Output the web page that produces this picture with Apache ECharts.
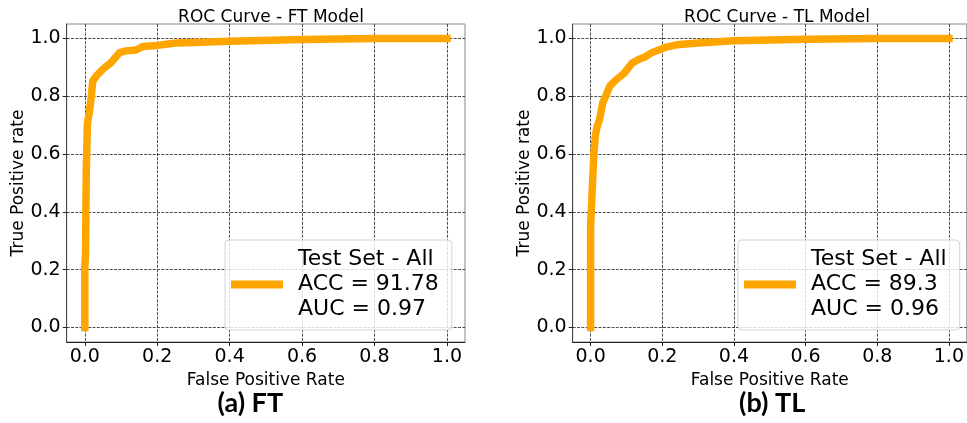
<!DOCTYPE html>
<html>
<head>
<meta charset="utf-8">
<script src="https://cdn.jsdelivr.net/npm/echarts@6/dist/echarts.min.js"></script>
<style>
  html, body { margin: 0; padding: 0; background: #fff; }
  #chart { width: 967px; height: 423px; }
</style>
</head>
<body>
<div id="chart"></div>
<script>
// ROC points
const ftFpr = [0, 0, 0.002, 0.004, 0.007, 0.009, 0.012, 0.018, 0.022, 0.032, 0.05, 0.073, 0.096, 0.114, 0.142, 0.16, 0.2, 0.252, 0.3, 0.4, 0.6, 0.8, 1.0]
const ftTpr = [0, 0.21, 0.25, 0.54, 0.70, 0.72, 0.74, 0.80, 0.853, 0.87, 0.894, 0.917, 0.951, 0.957, 0.96, 0.972, 0.976, 0.984, 0.986, 0.99, 0.996, 1.0, 1.0]
const tlFpr = [0, 0, 0.005, 0.009, 0.013, 0.017, 0.025, 0.034, 0.042, 0.054, 0.071, 0.094, 0.116, 0.135, 0.15, 0.171, 0.208, 0.24, 0.3, 0.4, 0.6, 0.8, 1.0]
const tlTpr = [0, 0.35, 0.49, 0.6, 0.66, 0.69, 0.72, 0.778, 0.80, 0.836, 0.857, 0.88, 0.915, 0.928, 0.935, 0.951, 0.969, 0.978, 0.984, 0.992, 0.997, 1.0, 1.0]
const tickValues = [0, 0.2, 0.4, 0.6, 0.8, 1.0]
const titles = ['ROC Curve - FT Model', 'ROC Curve - TL Model']
const captions = ['(a) FT', '(b) TL']
const legendText = {
  FT: 'Test Set - All\nACC = 91.78\nAUC = 0.97',
  TL: 'Test Set - All\nACC = 89.3\nAUC = 0.96'
}

const orange = '#FFA500'
const font = 'DejaVu Sans'

function pairs(xs, ys) {
  return xs.map((x, i) => [x, ys[i]])
}

function makeX(idx) {
  return {
    type: 'value',
    gridIndex: idx,
    min: -0.05,
    max: 1.05,
    name: 'False Positive Rate',
    nameLocation: 'middle',
    nameGap: 26,
    nameTextStyle: { fontFamily: font, fontSize: 17, color: '#000' },
    axisLine: { show: true, onZero: false, lineStyle: { color: '#222', width: 1 } },
    axisTick: { show: true, length: 4, customValues: tickValues, lineStyle: { color: '#222' } },
    axisLabel: {
      customValues: tickValues,
      fontFamily: font, fontSize: 19, color: '#000', margin: 6,
      formatter: v => v.toFixed(1)
    },
    splitLine: { show: true, lineStyle: { color: '#222', width: 0.8, type: [3, 1.3] } }
  }
}

function makeY(idx) {
  return {
    type: 'value',
    gridIndex: idx,
    min: -0.05,
    max: 1.05,
    name: 'True Positive rate',
    nameLocation: 'middle',
    nameGap: 40,
    nameTextStyle: { fontFamily: font, fontSize: 17, color: '#000' },
    axisLine: { show: true, onZero: false, lineStyle: { color: '#444', width: 1 } },
    axisTick: { show: true, length: 4, customValues: tickValues, lineStyle: { color: '#222' } },
    axisLabel: {
      customValues: tickValues,
      fontFamily: font, fontSize: 19, color: '#000', margin: 6,
      formatter: v => v.toFixed(1)
    },
    splitLine: { show: true, lineStyle: { color: '#222', width: 0.8, type: [3, 1.3] } }
  }
}

function makeLegend(name, left) {
  return {
    data: [name],
    left: left,
    top: 240,
    orient: 'vertical',
    selectedMode: false,
    icon: 'rect',
    itemWidth: 52,
    itemHeight: 8,
    padding: [7, 13, 8, 6],
    backgroundColor: 'rgba(255,255,255,0.8)',
    borderColor: '#d4d4d4',
    borderWidth: 1,
    borderRadius: 4,
    formatter: n => legendText[n],
    textStyle: { fontFamily: font, fontSize: 22, lineHeight: 25, color: '#000', padding: [0, 0, 0, 10] }
  }
}

function makeSeries(name, idx, xs, ys) {
  return {
    name: name,
    type: 'line',
    xAxisIndex: idx,
    yAxisIndex: idx,
    data: pairs(xs, ys),
    showSymbol: false,
    symbol: 'none',
    itemStyle: { color: orange },
    lineStyle: { color: orange, width: 7.5, cap: 'square', join: 'round' }
  }
}

const chart = echarts.init(document.getElementById('chart'))
chart.setOption({
  animation: false,
  backgroundColor: '#fff',
  title: [
    { text: titles[0], left: 266, top: 4, textAlign: 'center',
      textStyle: { fontFamily: font, fontSize: 17, fontWeight: 'normal', color: '#000' } },
    { text: titles[1], left: 772, top: 4, textAlign: 'center',
      textStyle: { fontFamily: font, fontSize: 17, fontWeight: 'normal', color: '#000' } }
  ],
  grid: [
    { left: 66.7, top: 24, right: 502, bottom: 81, show: true, borderColor: '#888', borderWidth: 1 },
    { left: 572.7, top: 24, right: -5.5, bottom: 81, show: true, borderColor: '#888', borderWidth: 1 }
  ],
  xAxis: [makeX(0), makeX(1)],
  yAxis: [makeY(0), makeY(1)],
  legend: [makeLegend('FT', 225), makeLegend('TL', 738)],
  series: [
    makeSeries('FT', 0, ftFpr, ftTpr),
    makeSeries('TL', 1, tlFpr, tlTpr)
  ],
  graphic: [
    { type: 'text', left: 250.5 - 33, top: 390,
      style: { text: captions[0], font: 'bold 27px Lato', fill: '#000' } },
    { type: 'text', left: 772 - 33, top: 390,
      style: { text: captions[1], font: 'bold 27px Lato', fill: '#000' } }
  ]
})
</script>
</body>
</html>
